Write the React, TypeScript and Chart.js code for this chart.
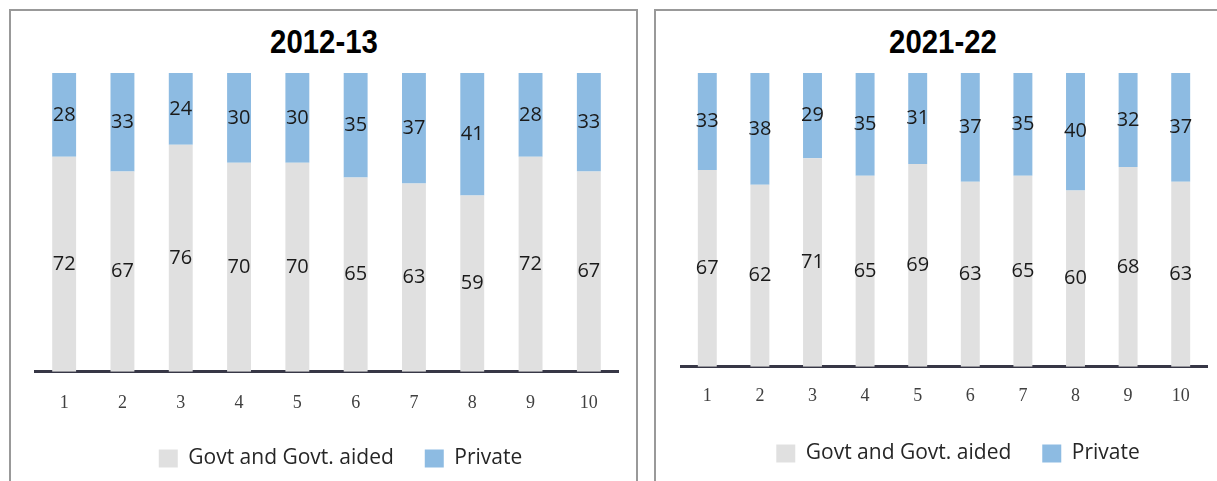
import React, { useEffect, useRef } from "react";
import { Chart, registerables } from "chart.js";

Chart.register(...registerables);

const categories = ["1", "2", "3", "4", "5", "6", "7", "8", "9", "10"];
const govt2012 = [72, 67, 76, 70, 70, 65, 63, 59, 72, 67];
const private2012 = [28, 33, 24, 30, 30, 35, 37, 41, 28, 33];
const govt2021 = [67, 62, 71, 65, 69, 63, 65, 60, 68, 63];
const private2021 = [33, 38, 29, 35, 31, 37, 35, 40, 32, 37];
const seriesNames = ["Govt and Govt. aided", "Private"];
const titles = ["2012-13", "2021-22"];

const GRAY = "#e0e0e0";
const BLUE = "#8dbbe2";

const valueLabels = {
  id: "valueLabels",
  afterDatasetsDraw(chart: any) {
    const ctx = chart.ctx;
    ctx.save();
    ctx.font = "20px 'Open Sans', sans-serif";
    ctx.fillStyle = "#1a1a1a";
    ctx.textAlign = "center";
    ctx.textBaseline = "middle";
    chart.data.datasets.forEach((ds: any, di: number) => {
      const meta = chart.getDatasetMeta(di);
      meta.data.forEach((el: any, i: number) => {
        const y = (el.y + el.base) / 2;
        ctx.fillText(String(ds.data[i]), el.x, y);
      });
    });
    ctx.restore();
  },
};

interface PanelCfg {
  govt: number[];
  priv: number[];
  barPct: number;
  tickPad: number;
  axisExtra: number;
  padBottom: number;
}

function makeChart(canvas: HTMLCanvasElement, cfg: PanelCfg) {
  return new Chart(canvas, {
    type: "bar",
    data: {
      labels: categories,
      datasets: [
        {
          label: seriesNames[0],
          data: cfg.govt,
          backgroundColor: GRAY,
          borderWidth: 0,
          categoryPercentage: 1,
          barPercentage: cfg.barPct,
        },
        {
          label: seriesNames[1],
          data: cfg.priv,
          backgroundColor: BLUE,
          borderWidth: 0,
          categoryPercentage: 1,
          barPercentage: cfg.barPct,
        },
      ],
    },
    options: {
      responsive: false,
      animation: false,
      layout: { padding: { left: 25, right: 4, top: 63, bottom: cfg.padBottom } },
      scales: {
        x: {
          stacked: true,
          grid: { display: false, drawTicks: false },
          border: { display: true, color: "#373746", width: 3 },
          ticks: {
            padding: cfg.tickPad,
            color: "#404040",
            font: { family: "'Liberation Serif', serif", size: 18 },
          },
          afterFit: (s: any) => {
            s.height += cfg.axisExtra;
          },
        },
        y: {
          stacked: true,
          position: "right",
          min: 0,
          max: 100,
          grid: { display: false, drawTicks: false },
          border: { display: false },
          ticks: { display: false },
          afterFit: (s: any) => {
            s.width = 28;
          },
        },
      },
      plugins: {
        title: { display: false },
        legend: {
          position: "bottom",
          labels: {
            boxWidth: 19,
            boxHeight: 18,
            padding: 31,
            color: "#262626",
            font: { family: "'Open Sans', sans-serif", size: 21 },
          },
        },
        tooltip: { enabled: false },
      },
    },
    plugins: [valueLabels],
  } as any);
}

function Panel(props: { cfg: PanelCfg; left: number; width: number }) {
  const ref = useRef<HTMLCanvasElement | null>(null);
  useEffect(() => {
    if (!ref.current) return;
    const c = makeChart(ref.current, props.cfg);
    return () => c.destroy();
  }, []);
  return (
    <canvas
      ref={ref}
      width={props.width}
      height={471}
      style={{ position: "absolute", left: props.left, top: 10, width: props.width, height: 471 }}
    />
  );
}

function Title(props: { text: string; center: number }) {
  return (
    <div
      style={{
        position: "absolute",
        left: props.center - 100,
        top: 25,
        width: 200,
        textAlign: "center",
        fontFamily: "'Liberation Sans', Arial, sans-serif",
        fontWeight: "bold",
        fontSize: 33,
        lineHeight: "33px",
        color: "#000",
        transform: "scaleX(0.89)",
        whiteSpace: "nowrap",
      }}
    >
      {props.text}
    </div>
  );
}

const leftCfg: PanelCfg = {
  govt: govt2012,
  priv: private2012,
  barPct: 0.41,
  tickPad: 21,
  axisExtra: -18.4,
  padBottom: 2,
};

const rightCfg: PanelCfg = {
  govt: govt2021,
  priv: private2021,
  barPct: 0.36,
  tickPad: 19,
  axisExtra: -14.4,
  padBottom: 7,
};

export default function App() {
  return (
    <div
      style={{
        position: "fixed",
        left: 0,
        top: 0,
        width: 1217,
        height: 481,
        overflow: "hidden",
        background: "#fff",
      }}
    >
      <div
        style={{
          position: "absolute",
          left: 9,
          top: 9,
          width: 629,
          height: 500,
          border: "2px solid #999999",
          boxSizing: "border-box",
        }}
      />
      <div
        style={{
          position: "absolute",
          left: 654,
          top: 9,
          width: 620,
          height: 500,
          border: "2px solid #999999",
          boxSizing: "border-box",
        }}
      />
      <Title text={titles[0]} center={324} />
      <Title text={titles[1]} center={943} />
      <Panel cfg={leftCfg} left={10} width={640} />
      <Panel cfg={rightCfg} left={656} width={583} />
    </div>
  );
}
